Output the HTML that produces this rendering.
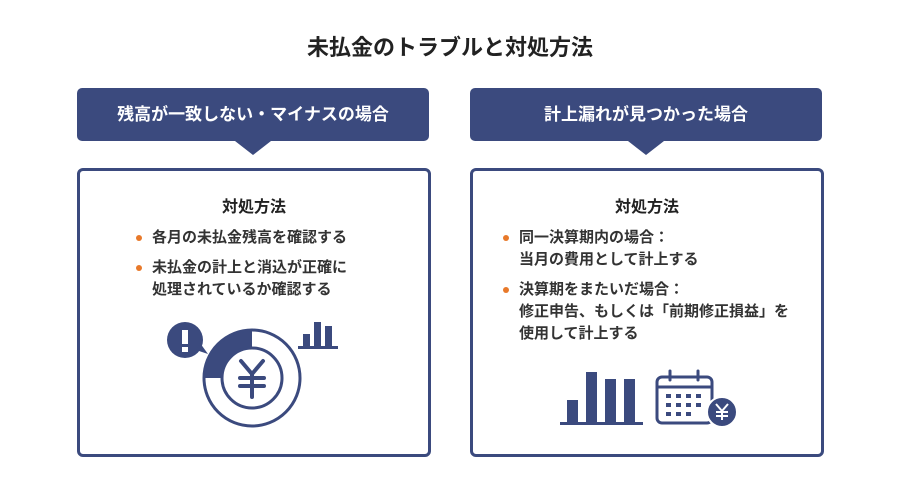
<!DOCTYPE html>
<html><head><meta charset="utf-8"><style>
body{margin:0;width:900px;height:485px;background:#fff;font-family:"Liberation Sans","Noto Sans CJK JP",sans-serif;color:#333;position:relative;overflow:hidden}
.t{position:absolute;left:0;width:900px;top:30px;text-align:center;font-size:22px;font-weight:bold;color:#222}
.h{position:absolute;top:88px;height:53px;width:352px;background:#3b4a7e;color:#fff;border-radius:5px;font-size:17px;font-weight:bold;text-align:center;line-height:53px}
.h:after{content:"";position:absolute;left:158px;top:53px;border-left:18px solid transparent;border-right:18px solid transparent;border-top:14px solid #3b4a7e}
.b{position:absolute;top:168px;width:348px;height:283px;border:3px solid #3b4a7e;border-radius:6px}
.st{position:absolute;top:193px;width:354px;text-align:center;font-size:16px;font-weight:bold;color:#222}
ul{position:absolute;margin:0;padding:0;list-style:none;font-size:15px;font-weight:bold;color:#333;line-height:22px}
li{position:relative;padding-left:16px;margin-bottom:8px}
li:before{content:"";position:absolute;left:0;top:8px;width:6px;height:6px;border-radius:50%;background:#e8792a}
</style></head><body>
<div class="t">未払金のトラブルと対処方法</div>
<div class="h" style="left:77px">残高が一致しない・マイナスの場合</div>
<div class="h" style="left:470px">計上漏れが見つかった場合</div>
<div class="b" style="left:77px"></div>
<div class="b" style="left:470px"></div>
<div class="st" style="left:77px">対処方法</div>
<div class="st" style="left:470px">対処方法</div>
<ul style="left:136px;top:227px"><li>各月の未払金残高を確認する</li><li>未払金の計上と消込が正確に<br>処理されているか確認する</li></ul>
<ul style="left:503px;top:227px"><li>同一決算期内の場合：<br>当月の費用として計上する</li><li>決算期をまたいだ場合：<br>修正申告、もしくは「前期修正損益」を<br>使用して計上する</li></ul>
<svg width="900" height="485" style="position:absolute;left:0;top:0">
<g fill="#3b4a7e" stroke="none">
<circle cx="185" cy="340" r="18"/>
<path d="M196 350 L208 354 L200 343 Z"/>
<path d="M252 330 A48 48 0 0 0 204 378 L222 378 A30 30 0 0 1 252 348 Z"/>
<rect x="303" y="334" width="7" height="13"/><rect x="314" y="322" width="7" height="25"/><rect x="325" y="326" width="7" height="21"/>
<rect x="298" y="346" width="40" height="3"/>
<rect x="567" y="400" width="11" height="23"/><rect x="586" y="372" width="11" height="51"/><rect x="605" y="379" width="11" height="44"/><rect x="624" y="379" width="11" height="44"/>
<rect x="560" y="422" width="83" height="3"/>
</g>
<rect x="182" y="330" width="6" height="14" fill="#fff"/><rect x="182" y="347" width="6" height="5" fill="#fff"/>
<g fill="none" stroke="#3b4a7e" stroke-width="3">
<circle cx="252" cy="378" r="48"/><circle cx="252" cy="378" r="30"/>
<path d="M241 361 L252 374 L263 361 M252 374 V397 M240 378 H264 M240 386 H264" stroke-width="4" stroke-linecap="round"/>
<rect x="657" y="377" width="55" height="46" rx="5"/>
<line x1="657" y1="387" x2="712" y2="387"/>
<line x1="670" y1="371" x2="670" y2="380" stroke-linecap="round"/><line x1="698" y1="371" x2="698" y2="380" stroke-linecap="round"/>
</g>
<g fill="#3b4a7e">
<rect x="666" y="394" width="5" height="4"/><rect x="676" y="394" width="5" height="4"/><rect x="686" y="394" width="5" height="4"/><rect x="696" y="394" width="5" height="4"/>
<rect x="666" y="403" width="5" height="4"/><rect x="676" y="403" width="5" height="4"/><rect x="686" y="403" width="5" height="4"/><rect x="696" y="403" width="5" height="4"/>
<rect x="666" y="412" width="5" height="4"/><rect x="676" y="412" width="5" height="4"/><rect x="686" y="412" width="5" height="4"/>
<circle cx="722" cy="412" r="15" stroke="#fff" stroke-width="2"/>
</g>
<path d="M716 404 L722 411 L728 404 M722 411 V420 M716 412 H728 M716 416 H728" stroke="#fff" stroke-width="2" fill="none"/>
</svg>
</body></html>
